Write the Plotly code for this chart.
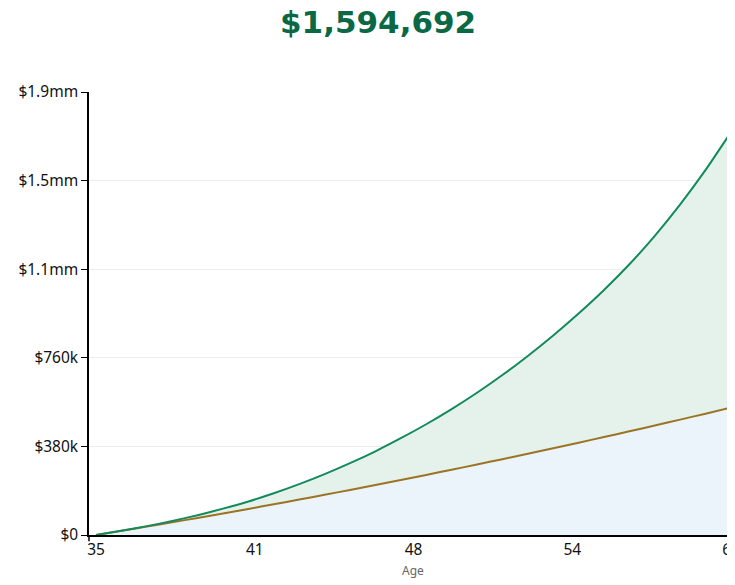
import plotly.graph_objects as go

# retirement savings projection, ages 35..60 (values in dollars)
ages = list(range(35, 61))
balance_k = [0, 18, 38, 60, 85, 113, 144, 179, 218, 261, 308, 359, 415, 475,
             540, 610, 686, 768, 856, 950, 1051, 1161, 1283, 1418, 1566, 1728]
contrib_k = [0, 17.8, 35.9, 54.4, 73.2, 92.4, 111.9, 131.7, 151.9, 172.4, 193.2,
             214.4, 235.9, 257.7, 279.9, 302.4, 325.3, 348.5, 372.0, 395.9,
             420.1, 444.7, 469.6, 494.8, 520.4, 546.3]
balance = [v * 1000 for v in balance_k]
contrib = [v * 1000 for v in contrib_k]

headline = "$1,594,692"
x_tickvals = [35, 41.25, 47.5, 53.75, 60]
x_ticktext = ["35", "41", "48", "54", "60"]
y_tickvals = [0, 380000, 760000, 1140000, 1520000, 1900000]
y_ticktext = ["$0", "$380k", "$760k", "$1.1mm", "$1.5mm", "$1.9mm"]

GREEN = "#138a5c"
BROWN = "#9a7424"
FONT = "Noto Sans"

fig = go.Figure()
fig.add_trace(go.Scatter(
    x=ages, y=contrib, mode="lines",
    line=dict(color=BROWN, width=2, shape="spline", smoothing=0.6),
    fill="tozeroy", fillcolor="#ebf4fb", hoverinfo="skip"))
fig.add_trace(go.Scatter(
    x=ages, y=balance, mode="lines",
    line=dict(color=GREEN, width=2, shape="spline", smoothing=0.6),
    fill="tonexty", fillcolor="#e5f1eb", hoverinfo="skip"))

fig.update_xaxes(
    range=[34.724, 60], tickvals=x_tickvals, ticktext=x_ticktext,
    showgrid=False, zeroline=False, showline=True, linecolor="black",
    linewidth=1.5, ticks="", automargin=False,
    tickfont=dict(family=FONT, size=15.5, color="#111"))
fig.update_yaxes(
    range=[0, 1900000], tickvals=y_tickvals, ticktext=y_ticktext,
    showgrid=True, gridcolor="#ececec", gridwidth=1, zeroline=False,
    showline=True, linecolor="black", linewidth=1.5, automargin=False,
    ticks="outside", ticklen=6, tickcolor="black", tickwidth=1,
    tickfont=dict(family=FONT, size=15.5, color="#111"))

# outer tick at the start of the x axis
fig.add_shape(type="line", xref="paper", yref="y domain", x0=0, x1=0,
              y0=0, y1=-0.014, line=dict(color="black", width=1.5))

fig.add_annotation(text=headline, xref="paper", yref="paper", x=0.45, y=1.158,
                   xanchor="center", yanchor="middle", showarrow=False,
                   font=dict(family="DejaVu Sans", size=31, color="#0b6845",
                             weight="bold"))
fig.add_annotation(text="Age", xref="paper", yref="paper", x=0.505, y=-0.081,
                   xanchor="center", yanchor="middle", showarrow=False,
                   font=dict(family=FONT, size=12, color="#666"))

# page body adds an 8px offset, so the margins are shifted to compensate
fig.update_layout(
    width=735, height=585, showlegend=False,
    margin=dict(l=81, r=12, t=84, b=58),
    plot_bgcolor="white", paper_bgcolor="white")

fig.write_html("out.html")
